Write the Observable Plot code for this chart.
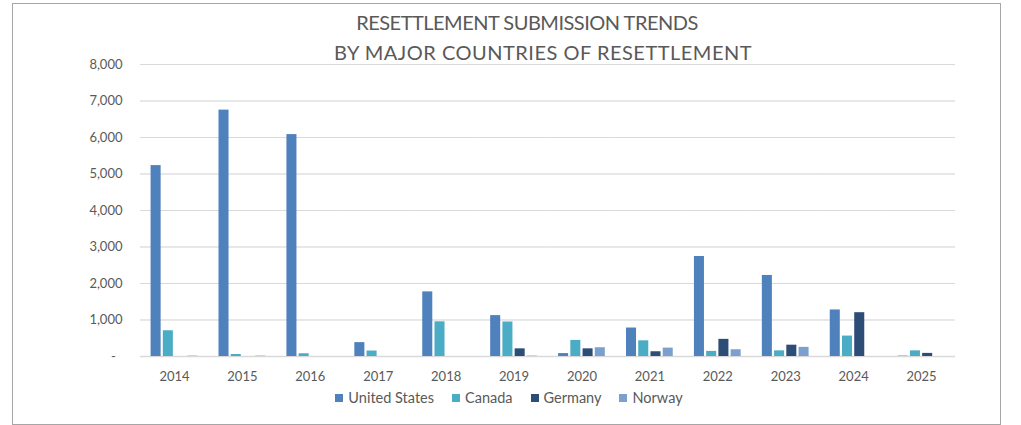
<!DOCTYPE html>
<html>
<head>
<meta charset="utf-8">
<script src="https://cdn.jsdelivr.net/npm/d3@7"></script>
<script src="https://cdn.jsdelivr.net/npm/@observablehq/plot@0.6"></script>
<style>
  body { margin: 0; background: #fff; font-family: Lato, "Open Sans", sans-serif; }
  #frame { position: absolute; left: 12px; top: 3px; width: 989px; height: 422px; box-sizing: border-box; border: 1.5px solid #a6a6a6; }
  .tline { position: absolute; left: 0; text-align: center; font-size: 20px; line-height: 30px; color: #595959; white-space: nowrap; }
  #t1 { top: 7px; width: 1054px; letter-spacing: -0.5px; }
  #t2 { top: 37px; width: 1086px; letter-spacing: 0.5px; }
  #chart { position: absolute; left: 0; top: 0; }
  #legend { position: absolute; left: 0; top: 389px; width: 1018px; display: flex; justify-content: center; gap: 18px; font-size: 14.5px; color: #595959; }
  #legend span.item { display: inline-flex; align-items: center; gap: 5px; }
  #legend span.sw { display: inline-block; width: 8px; height: 8px; }
</style>
</head>
<body>
<div id="frame"></div>
<div class="tline" id="t1">RESETTLEMENT SUBMISSION TRENDS</div>
<div class="tline" id="t2">BY MAJOR COUNTRIES OF RESETTLEMENT</div>
<div id="chart"></div>
<div id="legend"></div>
<script>
const years = ["2014","2015","2016","2017","2018","2019","2020","2021","2022","2023","2024","2025"];
const countries = ["United States","Canada","Germany","Norway"];
const unitedStates = [5230, 6750, 6080, 380, 1770, 1120, 80, 780, 2740, 2220, 1275, 10];
const canada       = [705, 55, 75, 150, 950, 945, 440, 430, 140, 155, 560, 155];
const germany      = [0, 0, 0, 0, 0, 210, 210, 130, 470, 310, 1200, 85];
const norway       = [10, 10, 0, 0, 0, 10, 240, 230, 185, 250, 0, 0];
const colors = ["#4f81bd", "#4bacc6", "#2c4d75", "#7ba0cd"];
const yTicks = [0, 1000, 2000, 3000, 4000, 5000, 6000, 7000, 8000];

const series = [unitedStates, canada, germany, norway];
const data = [];
years.forEach((yr, i) => {
  countries.forEach((c, j) => data.push({year: yr, country: c, value: series[j][i]}));
});

const fmt = d3.format(",");
const chart = Plot.plot({
  width: 1021,
  height: 390,
  marginTop: 64,
  marginBottom: 34,
  marginLeft: 140,
  marginRight: 66,
  style: {fontFamily: "Lato, 'Open Sans', sans-serif", fontSize: "13px", color: "#595959", background: "transparent"},
  fx: {domain: years, padding: 0, round: false, label: null, tickSize: 0, tickPadding: 15, axis: "bottom"},
  x: {domain: countries, paddingInner: 0.18, paddingOuter: 0.865, round: false, axis: null},
  y: {domain: [0, 8000], ticks: yTicks, grid: true, label: null, tickSize: 0, tickPadding: 18,
      tickFormat: d => d === 0 ? "-\u00a0\u00a0" : fmt(d)},
  color: {domain: countries, range: colors},
  marks: [
    Plot.gridY(yTicks, {stroke: "#d9d9d9", strokeOpacity: 1, strokeWidth: 1}),
    Plot.ruleY([0], {stroke: "#d9d9d9", strokeWidth: 1.5}),
    Plot.barY(data, {fx: "year", x: "country", y: "value", fill: "country", inset: 0})
  ]
});
document.getElementById("chart").appendChild(chart);

const legend = document.getElementById("legend");
countries.forEach((c, i) => {
  const item = document.createElement("span");
  item.className = "item";
  const sw = document.createElement("span");
  sw.className = "sw";
  sw.style.background = colors[i];
  item.appendChild(sw);
  item.appendChild(document.createTextNode(c));
  legend.appendChild(item);
});
</script>
</body>
</html>
